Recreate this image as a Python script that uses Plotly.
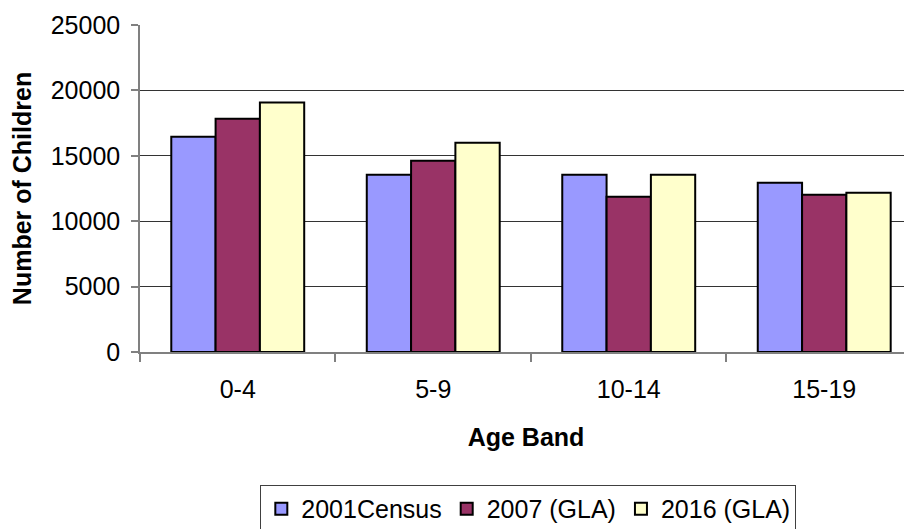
import plotly.graph_objects as go

categories = ["0-4", "5-9", "10-14", "15-19"]
census_2001 = [16460, 13550, 13550, 12940]
gla_2007 = [17840, 14620, 11870, 12020]
gla_2016 = [19070, 16000, 13550, 12170]
series_names = ["2001Census", "2007 (GLA)", "2016 (GLA)"]
series_colors = ["#9999FF", "#993366", "#FFFFCC"]
y_ticks = [0, 5000, 10000, 15000, 20000, 25000]

FONT = "Liberation Sans, Arial, sans-serif"

fig = go.Figure()
for name, vals, col in zip(series_names, [census_2001, gla_2007, gla_2016], series_colors):
    fig.add_trace(go.Bar(
        x=categories, y=vals, name=name,
        marker=dict(color=col, line=dict(color="black", width=2)),
    ))

# page body has an 8px default margin, so the figure is sized to fit the window
fig.update_layout(
    width=904, height=521,
    margin=dict(l=132, r=0, t=17, b=177),
    paper_bgcolor="white", plot_bgcolor="white",
    barmode="group", bargap=0.32, bargroupgap=0,
    font=dict(family=FONT, size=25, color="black"),
    showlegend=True,
    legend=dict(
        orientation="h", xref="paper", x=0.503, xanchor="center",
        yref="container", y=0.0845, yanchor="top",
        bordercolor="#404040", borderwidth=1, font=dict(size=25),
        itemsizing="constant", traceorder="normal",
        itemwidth=30, tracegroupgap=0,
    ),
)

fig.update_xaxes(
    type="category", range=[-0.5, 3.449], automargin=False,
    showline=True, linecolor="#808080", linewidth=1.5,
    ticks="outside", tickson="boundaries", ticklen=8, tickcolor="#808080", tickwidth=1.5,
    showgrid=False, tickfont=dict(size=25), ticklabelstandoff=14,
    title=dict(text="<b>Age Band</b>", font=dict(size=25), standoff=27),
)
fig.update_yaxes(
    range=[0, 25000], tickvals=y_ticks, tickformat="d", automargin=False,
    showline=True, linecolor="#808080", linewidth=1.5,
    ticks="outside", ticklen=7, tickcolor="#808080", tickwidth=1.5,
    showgrid=True, gridcolor="#333333", gridwidth=1,
    zeroline=False, tickfont=dict(size=25), ticklabelstandoff=6,
    title=dict(text="<b>Number of Children</b>", font=dict(size=25), standoff=14),
)

fig.write_html("out.html")
